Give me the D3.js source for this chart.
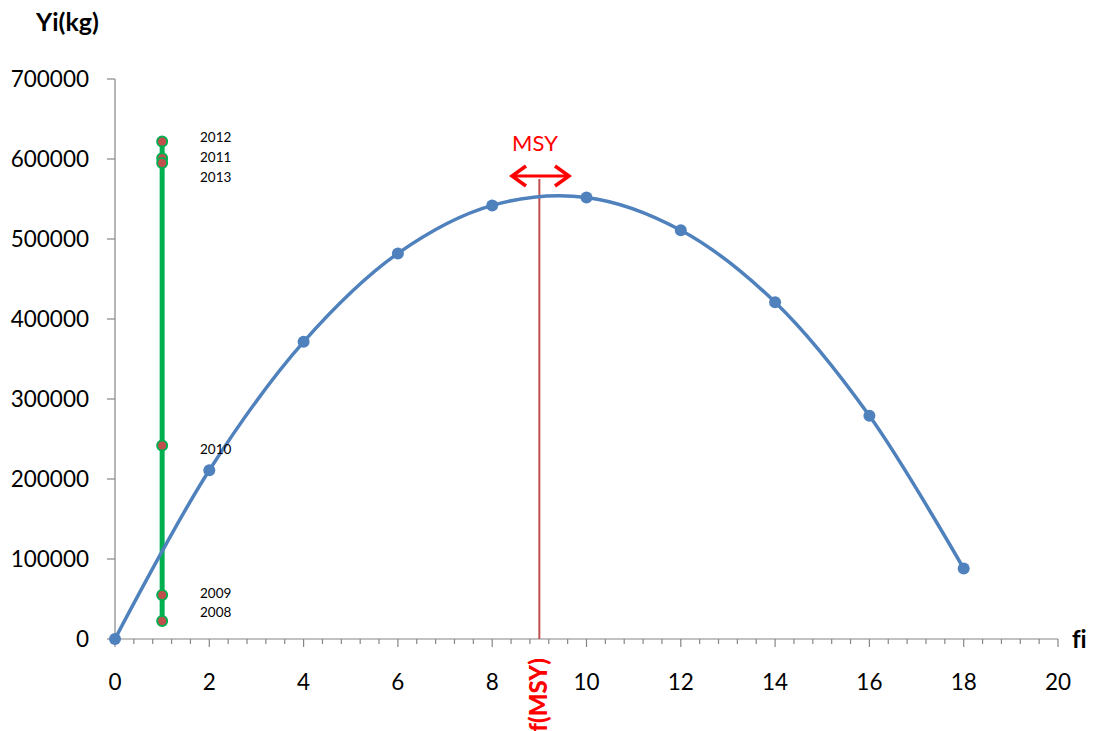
<!DOCTYPE html>
<html><head><meta charset="utf-8">
<script src="https://cdn.jsdelivr.net/npm/d3@7"></script>
<style>body{margin:0;background:#fff}svg{display:block;font-family:Lato,"Open Sans",sans-serif;font-variant-ligatures:none}</style>
</head><body><svg id="c" width="1094" height="731"></svg>
<script>
const effort = [0, 2, 4, 6, 8, 10, 12, 14, 16, 18];
const yieldKg = [0, 211000, 371500, 482000, 542000, 552000, 511000, 421000, 279000, 88000];
const years = ["2008", "2009", "2010", "2011", "2012", "2013"];
const yearEffort = [1, 1, 1, 1, 1, 1];
const yearYield = [22500, 55000, 242000, 601000, 622000, 595000];
const yearLabelY = [612, 593, 449, 157, 137, 177];
const fMSY = 9;
const xTicks = [0, 2, 4, 6, 8, 10, 12, 14, 16, 18, 20];
const yTicks = [0, 100000, 200000, 300000, 400000, 500000, 600000, 700000];

const svg = d3.select("#c");
const x = d3.scaleLinear().domain([0, 20]).range([115, 1058]);
const y = d3.scaleLinear().domain([0, 700000]).range([639, 79]);
const axisCol = "#868686";

svg.append("line").attr("x1", x(0)).attr("x2", x(0)).attr("y1", y(0)).attr("y2", y(700000)).attr("stroke", axisCol).attr("stroke-width", 1.2);
yTicks.forEach(t => {
  svg.append("line").attr("x1", x(0) - 8).attr("x2", x(0)).attr("y1", y(t)).attr("y2", y(t)).attr("stroke", axisCol).attr("stroke-width", 1.2);
  svg.append("text").attr("x", 89).attr("y", y(t)).attr("dy", "0.36em").attr("text-anchor", "end")
    .attr("font-size", 22.5).attr("fill", "#000").text(t);
});
svg.append("line").attr("x1", x(0)).attr("x2", x(20)).attr("y1", y(0)).attr("y2", y(0)).attr("stroke", axisCol).attr("stroke-width", 1.2);
d3.range(0, 51).forEach(i => {
  const v = i * 0.4;
  const major = i % 5 === 0;
  svg.append("line").attr("x1", x(v)).attr("x2", x(v)).attr("y1", y(0)).attr("y2", y(0) + (major ? 8 : 5))
    .attr("stroke", axisCol).attr("stroke-width", 1.2);
});
xTicks.forEach(t => {
  svg.append("text").attr("x", x(t)).attr("y", 690).attr("text-anchor", "middle")
    .attr("font-size", 22.5).attr("fill", "#000").text(t);
});
svg.append("text").attr("x", 36).attr("y", 31).attr("font-size", 25).attr("font-weight", "bold").text("Yi(kg)");
svg.append("text").attr("x", 1072).attr("y", 648).attr("font-size", 24).attr("font-weight", "bold").text("fi");

svg.append("line").attr("x1", x(fMSY)).attr("x2", x(fMSY)).attr("y1", 179).attr("y2", y(0))
  .attr("stroke", "#c0504d").attr("stroke-width", 2);
svg.append("text").attr("transform", `translate(${x(fMSY) + 8},658) rotate(-90)`).attr("text-anchor", "end")
  .attr("font-size", 24).attr("font-weight", "900").attr("fill", "#ff0000").text("f(MSY)");

const ay = 176, ax1 = 512, ax2 = 569;
svg.append("line").attr("x1", ax1 + 2).attr("x2", ax2 - 2).attr("y1", ay).attr("y2", ay).attr("stroke", "#ff0000").attr("stroke-width", 3);
svg.append("path").attr("d", `M${ax1 + 14},${ay - 10} L${ax1},${ay} L${ax1 + 14},${ay + 10}`).attr("fill", "none").attr("stroke", "#ff0000").attr("stroke-width", 3.5);
svg.append("path").attr("d", `M${ax2 - 14},${ay - 10} L${ax2},${ay} L${ax2 - 14},${ay + 10}`).attr("fill", "none").attr("stroke", "#ff0000").attr("stroke-width", 3.5);
svg.append("text").attr("x", 535).attr("y", 151).attr("text-anchor", "middle").attr("font-size", 22).attr("fill", "#ff0000").text("MSY");

const gMin = d3.min(yearYield), gMax = d3.max(yearYield);
svg.append("line").attr("x1", x(1)).attr("x2", x(1)).attr("y1", y(gMin)).attr("y2", y(gMax))
  .attr("stroke", "#00b050").attr("stroke-width", 5);

const line = d3.line().x((d, i) => x(effort[i])).y(d => y(d)).curve(d3.curveCatmullRom.alpha(0.5));
svg.append("path").attr("d", line(yieldKg)).attr("fill", "none").attr("stroke", "#4f81bd").attr("stroke-width", 3.5);
svg.selectAll("circle.b").data(yieldKg).enter().append("circle").attr("class", "b")
  .attr("cx", (d, i) => x(effort[i])).attr("cy", d => y(d)).attr("r", 6).attr("fill", "#4f81bd");

svg.selectAll("circle.g").data(yearYield).enter().append("circle").attr("class", "g")
  .attr("cx", (d, i) => x(yearEffort[i])).attr("cy", d => y(d)).attr("r", 5)
  .attr("fill", "#c0504d").attr("stroke", "#00b050").attr("stroke-width", 2);

svg.selectAll("text.yr").data(years).enter().append("text").attr("class", "yr")
  .attr("x", 200).attr("y", (d, i) => yearLabelY[i] + 5).attr("font-size", 13.5).attr("fill", "#000").text(d => d);
</script></body></html>
